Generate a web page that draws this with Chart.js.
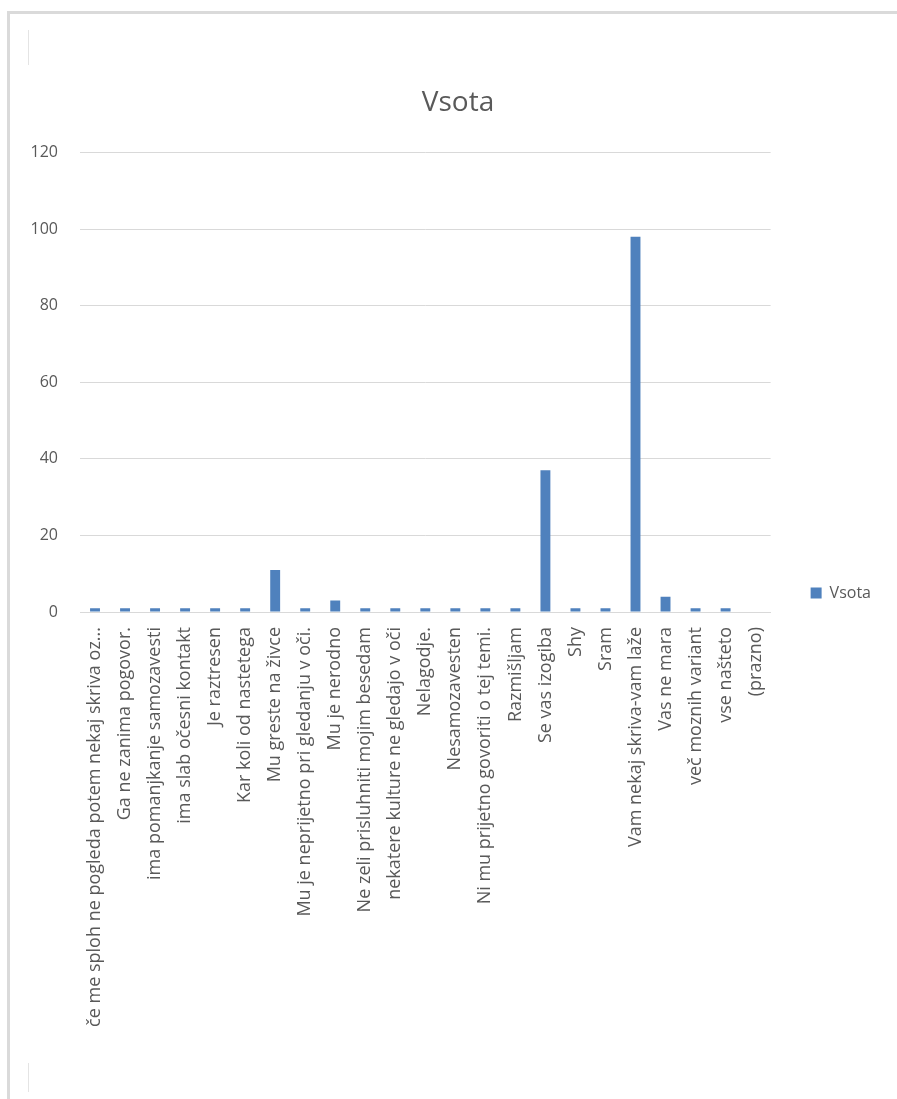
<!DOCTYPE html>
<html>
<head>
<meta charset="utf-8">
<title>Vsota</title>
<script src="https://cdn.jsdelivr.net/npm/chart.js@4/dist/chart.umd.min.js"></script>
<style>
    html, body { margin: 0; padding: 0; background: #fff; overflow: hidden; }
    .frame {
        position: absolute; left: 7px; top: 11px; width: 1000px; height: 1200px;
        border-left: 3px solid #dadada; border-top: 3px solid #dadada;
    }
    .mark { position: absolute; left: 28px; width: 1px; background: #e4e4e4; }
    #vsotaChart { position: absolute; left: 0; top: 0; }
</style>
</head>
<body>
<div class="frame"></div>
<div class="mark" style="top: 30px; height: 35px;"></div>
<div class="mark" style="top: 1063px; height: 29px;"></div>
<canvas id="vsotaChart" width="916" height="1099"></canvas>

<script>
// kategorije (odgovori) in vsote
const categories = [
    'če me sploh ne pogleda potem nekaj skriva oz...',
    'Ga ne zanima pogovor.',
    'ima pomanjkanje samozavesti',
    'ima slab očesni kontakt',
    'Je raztresen',
    'Kar koli od nastetega',
    'Mu greste na živce',
    'Mu je neprijetno pri gledanju v oči.',
    'Mu je nerodno',
    'Ne zeli prisluhniti mojim besedam',
    'nekatere kulture ne gledajo v oči',
    'Nelagodje.',
    'Nesamozavesten',
    'Ni mu prijetno govoriti o tej temi.',
    'Razmišljam',
    'Se vas izogiba',
    'Shy',
    'Sram',
    'Vam nekaj skriva-vam laže',
    'Vas ne mara',
    'več moznih variant',
    'vse našteto',
    '(prazno)'
];
const vsota = [1, 1, 1, 1, 1, 1, 11, 1, 3, 1, 1, 1, 1, 1, 1, 37, 1, 1, 98, 4, 1, 1, null];

const yMin = 0;
const yMax = 120;
const yStep = 20;

const textColor = '#595959';
const gridColor = '#d9d9d9';
const barColor = '#4f81bd';

document.addEventListener('DOMContentLoaded', function() {
    createVsotaChart();
});

function createVsotaChart() {
    const ctx = document.getElementById('vsotaChart').getContext('2d');

    const chart = new Chart(ctx, {
        type: 'bar',
        data: {
            labels: categories,
            datasets: [{
                label: 'Vsota',
                data: vsota,
                backgroundColor: barColor,
                borderWidth: 0,
                barPercentage: 0.33,
                categoryPercentage: 1
            }]
        },
        options: {
            responsive: false,
            animation: false,
            layout: { padding: 0 },
            scales: {
                x: {
                    grid: { display: false, drawTicks: false },
                    border: { display: true, color: gridColor },
                    ticks: {
                        autoSkip: false,
                        minRotation: 90,
                        maxRotation: 90,
                        padding: 15,
                        color: textColor,
                        font: { family: '"Open Sans", sans-serif', size: 18 }
                    },
                    afterFit: function(scale) { scale.height = 487; }
                },
                y: {
                    min: yMin,
                    max: yMax,
                    grid: { color: gridColor, drawTicks: false },
                    border: { display: false },
                    ticks: {
                        stepSize: yStep,
                        padding: 22,
                        color: textColor,
                        font: { family: '"Open Sans", sans-serif', size: 16 }
                    },
                    afterFit: function(scale) { scale.width = 80; }
                },
                // prazen prostor med grafom in legendo
                gapInner: {
                    type: 'linear',
                    position: 'right',
                    weight: 0,
                    grid: { display: false, drawTicks: false },
                    border: { display: false },
                    ticks: { display: false },
                    afterFit: function(scale) { scale.width = 29; }
                },
                gapOuter: {
                    type: 'linear',
                    position: 'right',
                    weight: 2000,
                    grid: { display: false, drawTicks: false },
                    border: { display: false },
                    ticks: { display: false },
                    afterFit: function(scale) { scale.width = 35; }
                }
            },
            plugins: {
                title: {
                    display: true,
                    text: 'Vsota',
                    color: textColor,
                    font: { family: '"Open Sans", sans-serif', size: 28, weight: 'normal' },
                    padding: { top: 86, bottom: 33 }
                },
                legend: {
                    display: true,
                    position: 'right',
                    align: 'end',
                    fullSize: false,
                    labels: {
                        boxWidth: 11,
                        boxHeight: 11,
                        padding: 11,
                        color: textColor,
                        font: { family: '"Open Sans", sans-serif', size: 16 }
                    }
                },
                tooltip: { enabled: false }
            }
        }
    });
}
</script>
</body>
</html>
